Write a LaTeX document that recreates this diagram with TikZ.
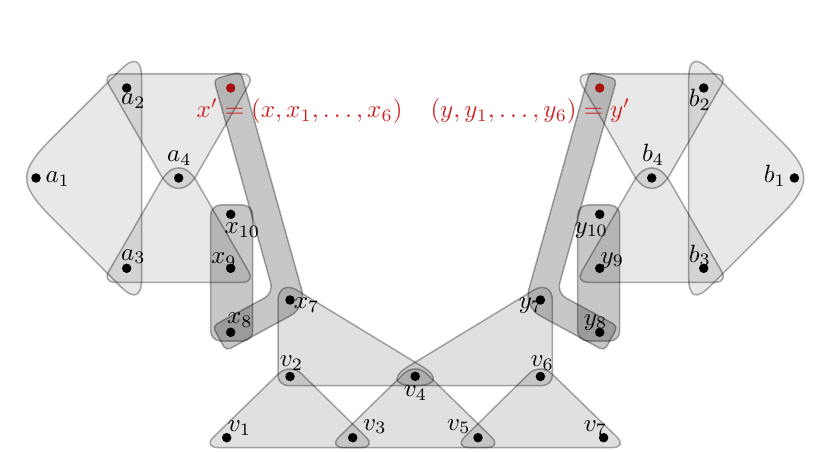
\documentclass[tikz,border=0pt]{standalone}
\usetikzlibrary{calc}
\definecolor{dotred}{RGB}{165,18,18}
\definecolor{txtred}{RGB}{210,32,32}
% rounded corner at #2 between #1 and #3; #4 tangent distance, #5 control distance (both px)
\newcommand\rcor[5]{-- ($(#2)!#4*0.4pt!(#1)$) .. controls ($(#2)!#5*0.4pt!(#1)$) and ($(#2)!#5*0.4pt!(#3)$) .. ($(#2)!#4*0.4pt!(#3)$)}
\tikzset{
  lightedge/.style={fill=black, fill opacity=0.09, draw=black, draw opacity=0.33, line width=0.6pt},
  midedge/.style={lightedge, fill opacity=0.12},
  darkedge/.style={lightedge, fill opacity=0.22},
  vdot/.style={circle, fill=black, inner sep=0pt, minimum size=3.8pt},
  reddot/.style={vdot, fill=dotred},
  lab/.style={inner sep=0pt, anchor=base west},
  redlab/.style={lab, text=txtred, font=\fontsize{10.4}{12.5}\selectfont},
}
\begin{document}
\begin{tikzpicture}[x=0.4pt, y=-0.4pt]
\useasboundingbox (0,0) rectangle (831,452);
% ---------- corner coordinates ----------
% left
\coordinate (A1l) at (12.2,178);   \coordinate (A1t) at (141.7,48.6);  \coordinate (A1b) at (141.7,307.7);
\coordinate (T1a) at (102.5,74);   \coordinate (T1b) at (254.9,74);    \coordinate (T1c) at (178.7,206);
\coordinate (T2a) at (102.5,282.3);\coordinate (T2b) at (254.9,282.3); \coordinate (T2c) at (178.7,150.3);
\coordinate (D1a) at (213.7,79.3); \coordinate (D1b) at (240.7,71.7);  \coordinate (D1c) at (306.5,307.0);
\coordinate (D1d) at (226.0,350.8);\coordinate (D1e) at (212.6,326.2); \coordinate (D1f) at (273.5,293.0);
\coordinate (Hxa) at (278,278.7);  \coordinate (Hxb) at (278,385.5);   \coordinate (Hxc) at (453.4,385.5);
% right
\coordinate (B1r) at (818.2,178);  \coordinate (B1t) at (688.7,48.6);  \coordinate (B1b) at (688.7,307.7);
\coordinate (U1a) at (727.9,74);   \coordinate (U1b) at (575.5,74);    \coordinate (U1c) at (651.7,206);
\coordinate (U2a) at (727.9,282.3);\coordinate (U2b) at (575.5,282.3); \coordinate (U2c) at (651.7,150.3);
\coordinate (E1a) at (616.7,79.3); \coordinate (E1b) at (589.7,71.7);  \coordinate (E1c) at (523.9,307.0);
\coordinate (E1d) at (604.4,350.8);\coordinate (E1e) at (617.8,326.2); \coordinate (E1f) at (556.9,293.0);
\coordinate (Hya) at (552.4,278.7);\coordinate (Hyb) at (552.4,385.5); \coordinate (Hyc) at (377,385.5);
% bottom
\coordinate (V1a) at (202.7,447.5);\coordinate (V1b) at (290.1,362.5); \coordinate (V1c) at (376.6,447.5);
\coordinate (V3a) at (328.2,447.5);\coordinate (V3b) at (415.2,362.5); \coordinate (V3c) at (502.2,447.5);
\coordinate (V5a) at (453.8,447.5);\coordinate (V5b) at (540.3,362.5); \coordinate (V5c) at (627.7,447.5);

% ---------- hyperedges ----------
\path[lightedge] ($(A1l)!0.5!(A1t)$) \rcor{A1l}{A1t}{A1b}{30}{10.6} \rcor{A1t}{A1b}{A1l}{30}{10.6} \rcor{A1b}{A1l}{A1t}{55}{9} -- cycle;
\path[lightedge] ($(T1a)!0.5!(T1b)$) \rcor{T1a}{T1b}{T1c}{12}{5.4} \rcor{T1b}{T1c}{T1a}{36}{15} \rcor{T1c}{T1a}{T1b}{12}{5.4} -- cycle;
\path[lightedge] ($(T2a)!0.5!(T2b)$) \rcor{T2a}{T2b}{T2c}{12}{5.4} \rcor{T2b}{T2c}{T2a}{36}{15} \rcor{T2c}{T2a}{T2b}{12}{5.4} -- cycle;
\path[lightedge] ($(B1r)!0.5!(B1t)$) \rcor{B1r}{B1t}{B1b}{30}{10.6} \rcor{B1t}{B1b}{B1r}{30}{10.6} \rcor{B1b}{B1r}{B1t}{55}{9} -- cycle;
\path[lightedge] ($(U1a)!0.5!(U1b)$) \rcor{U1a}{U1b}{U1c}{12}{5.4} \rcor{U1b}{U1c}{U1a}{36}{15} \rcor{U1c}{U1a}{U1b}{12}{5.4} -- cycle;
\path[lightedge] ($(U2a)!0.5!(U2b)$) \rcor{U2a}{U2b}{U2c}{12}{5.4} \rcor{U2b}{U2c}{U2a}{36}{15} \rcor{U2c}{U2a}{U2b}{12}{5.4} -- cycle;

\path[midedge] ($(Hxa)!0.5!(Hxb)$) \rcor{Hxa}{Hxb}{Hxc}{10}{4.5} \rcor{Hxb}{Hxc}{Hxa}{36}{17} \rcor{Hxc}{Hxa}{Hxb}{22}{10} -- cycle;
\path[midedge] ($(Hya)!0.5!(Hyb)$) \rcor{Hya}{Hyb}{Hyc}{10}{4.5} \rcor{Hyb}{Hyc}{Hya}{36}{17} \rcor{Hyc}{Hya}{Hyb}{22}{10} -- cycle;
\path[midedge] ($(V1a)!0.5!(V1c)$) \rcor{V1a}{V1c}{V1b}{15}{6.8} \rcor{V1c}{V1b}{V1a}{16}{7} \rcor{V1b}{V1a}{V1c}{15}{6.8} -- cycle;
\path[midedge] ($(V3a)!0.5!(V3c)$) \rcor{V3a}{V3c}{V3b}{15}{6.8} \rcor{V3c}{V3b}{V3a}{16}{7} \rcor{V3b}{V3a}{V3c}{15}{6.8} -- cycle;
\path[midedge] ($(V5a)!0.5!(V5c)$) \rcor{V5a}{V5c}{V5b}{15}{6.8} \rcor{V5c}{V5b}{V5a}{16}{7} \rcor{V5b}{V5a}{V5c}{15}{6.8} -- cycle;

\path[darkedge] ($(D1a)!0.5!(D1b)$) \rcor{D1a}{D1b}{D1c}{5}{2.2} \rcor{D1b}{D1c}{D1d}{18}{8} \rcor{D1c}{D1d}{D1e}{5}{2.2} \rcor{D1d}{D1e}{D1f}{5}{2.2} \rcor{D1e}{D1f}{D1a}{10}{4.5} \rcor{D1f}{D1a}{D1b}{5}{2.2} -- cycle;
\path[darkedge] ($(E1a)!0.5!(E1b)$) \rcor{E1a}{E1b}{E1c}{5}{2.2} \rcor{E1b}{E1c}{E1d}{18}{8} \rcor{E1c}{E1d}{E1e}{5}{2.2} \rcor{E1d}{E1e}{E1f}{5}{2.2} \rcor{E1e}{E1f}{E1a}{10}{4.5} \rcor{E1f}{E1a}{E1b}{5}{2.2} -- cycle;
\path[darkedge, rounded corners=4pt] (210.7,205) rectangle (252.7,341);
\path[darkedge, rounded corners=4pt] (577.7,205) rectangle (619.7,341);

% ---------- vertices ----------
\node[vdot] (a1) at (36,178) {};
\node[vdot] (a2) at (126.7,88) {};
\node[vdot] (a3) at (126.7,268.3) {};
\node[vdot] (a4) at (178.7,178) {};
\node[reddot] (xp) at (230.7,88) {};
\node[vdot] (x10) at (230.7,214.3) {};
\node[vdot] (x9) at (230.7,268.3) {};
\node[vdot] (x8) at (230.7,332.3) {};
\node[vdot] (x7) at (290,300) {};
\node[vdot] (v2) at (290,376.5) {};
\node[vdot] (v4) at (415.2,376.3) {};
\node[vdot] (v6) at (540.4,376.5) {};
\node[vdot] (v1) at (226.7,437.7) {};
\node[vdot] (v3) at (352.7,437.7) {};
\node[vdot] (v5) at (478,437.7) {};
\node[vdot] (v7) at (603.6,437.7) {};
\node[vdot] (y7) at (540.4,300) {};
\node[vdot] (y8) at (599.7,332.3) {};
\node[vdot] (y9) at (599.7,268.3) {};
\node[vdot] (y10) at (599.7,214.3) {};
\node[reddot] (yp) at (599.7,88) {};
\node[vdot] (b4) at (651.7,178) {};
\node[vdot] (b2) at (703.7,88) {};
\node[vdot] (b3) at (703.7,268.3) {};
\node[vdot] (b1) at (794.4,178) {};

% ---------- labels ----------
\node[lab] (la1) at (45,183) {$a_1$};
\node[lab] (la2) at (120.7,105) {$a_2$};
\node[lab] (la3) at (120.7,260) {$a_3$};
\node[lab] (la4) at (166.7,161.7) {$a_4$};
\node[lab] (lx10) at (224,233.3) {$x_{10}$};
\node[lab] (lx9) at (210.7,263.3) {$x_9$};
\node[lab] (lx8) at (226.7,323.3) {$x_8$};
\node[lab] (lx7) at (293.3,308.3) {$x_7$};
\node[lab] (lv2) at (279.3,366.7) {$v_2$};
\node[lab] (lv4) at (403.3,396.7) {$v_4$};
\node[lab] (lv6) at (530,366.7) {$v_6$};
\node[lab] (lv1) at (227.3,431.7) {$v_1$};
\node[lab] (lv3) at (362.7,430) {$v_3$};
\node[lab] (lv5) at (446.7,430) {$v_5$};
\node[lab] (lv7) at (583.3,431.7) {$v_7$};
\node[lab] (ly7) at (518.3,308.3) {$y_7$};
\node[lab] (ly8) at (583.3,325) {$y_8$};
\node[lab] (ly9) at (600,263) {$y_9$};
\node[lab] (ly10) at (574,233) {$y_{10}$};
\node[lab] (lb2) at (688.3,106.7) {$b_2$};
\node[lab] (lb3) at (688.3,262) {$b_3$};
\node[lab] (lb4) at (641.7,162) {$b_4$};
\node[lab] (lb1) at (763.3,183) {$b_1$};
\node[redlab] (lxp) at (196,118) {$x' = (x, x_1, \ldots, x_6)$};
\node[redlab] (lyp) at (430,118) {$(y, y_1, \ldots, y_6) = y'$};
\end{tikzpicture}
\end{document}
